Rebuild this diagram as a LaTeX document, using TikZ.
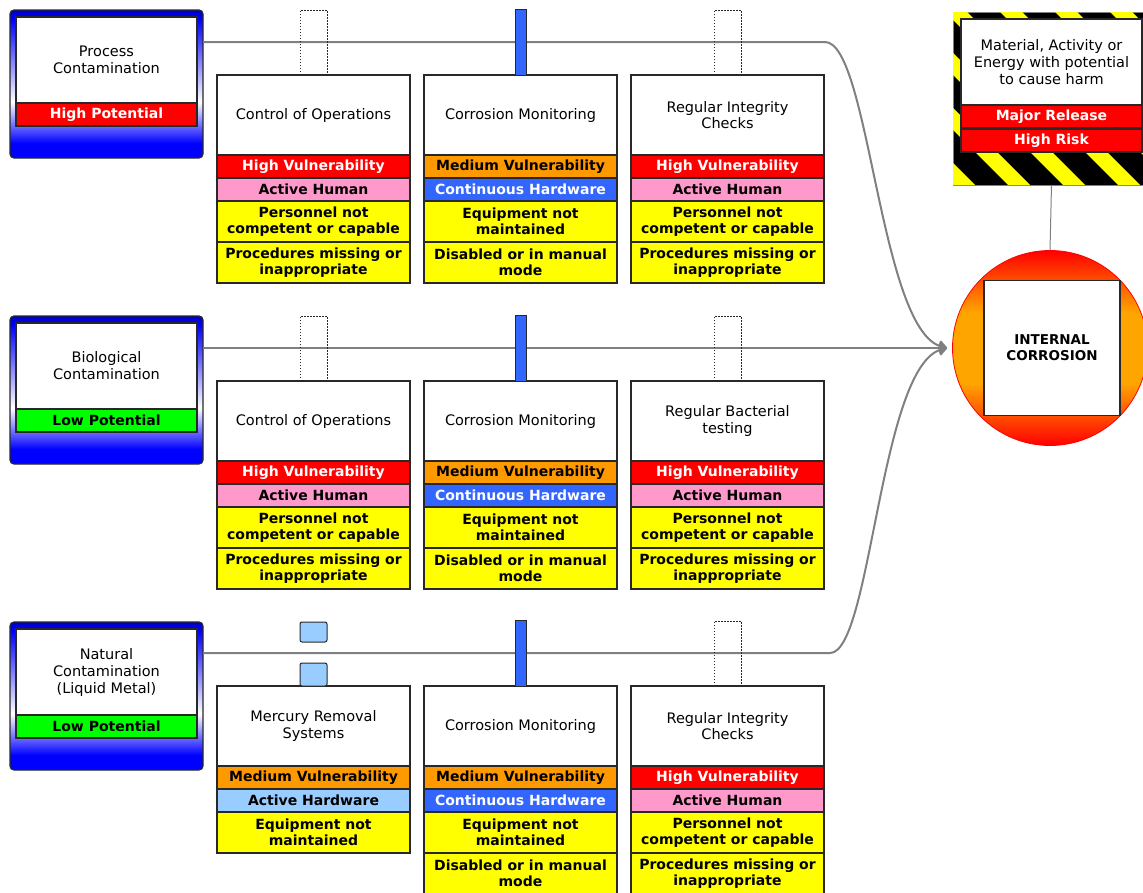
\documentclass[tikz,border=0pt]{standalone}
\usepackage{fontspec}
\setmainfont{DejaVu Sans}
\usetikzlibrary{positioning,arrows.meta}

\begin{document}
\begin{tikzpicture}[x=1pt, y=-1pt, thick]

  % Define Colors
  \definecolor{vred}{RGB}{255,0,0}
  \definecolor{vorange}{RGB}{255,153,0}
  \definecolor{hpink}{RGB}{255,153,204}
  \definecolor{hwblue}{RGB}{51,102,255}
  \definecolor{hwlight}{RGB}{153,204,255}
  \definecolor{fyellow}{RGB}{255,255,0}
  \definecolor{pgreen}{RGB}{0,255,0}
  \definecolor{tblue}{RGB}{0,0,255}
  \definecolor{tdark}{RGB}{0,0,200}
  \definecolor{torange}{RGB}{255,165,0}
  \definecolor{lgray}{RGB}{128,128,128}
  \definecolor{edge}{RGB}{40,40,40}

  % Shadings
  \pgfdeclareverticalshading{thrshade}{100bp}{color(0bp)=(tblue); color(25bp)=(tblue); color(30bp)=(tblue); color(44bp)=(white); color(72bp)=(tblue); color(75bp)=(tdark); color(100bp)=(tdark)}
  \pgfdeclareverticalshading{teshade}{100bp}{color(0bp)=(vred); color(25bp)=(vred); color(41bp)=(torange); color(59bp)=(torange); color(75bp)=(vred); color(100bp)=(vred)}

  % Node styles
  \tikzstyle{box}=[rectangle, draw=edge, line width=1.2pt, outer sep=0pt, inner sep=1pt, align=center]
  \tikzstyle{btitle}=[box, fill=white, anchor=north west, minimum width=193, minimum height=80, font=\fontsize{14.5}{16.5}\selectfont]
  \tikzstyle{strip}=[box, minimum width=193, minimum height=23, font=\fontsize{14}{16.5}\selectfont\bfseries]
  \tikzstyle{vhigh}=[strip, fill=vred, text=white]
  \tikzstyle{vmed}=[strip, fill=vorange]
  \tikzstyle{khum}=[strip, fill=hpink]
  \tikzstyle{kcont}=[strip, fill=hwblue, text=white]
  \tikzstyle{kact}=[strip, fill=hwlight]
  \tikzstyle{fact}=[strip, fill=fyellow, minimum height=41]

  \tikzstyle{threat}=[rectangle, draw=edge, line width=1.2pt, rounded corners=4pt, anchor=north west, minimum width=193, minimum height=148, outer sep=0pt, shading=thrshade]
  \tikzstyle{ttitle}=[box, fill=white, anchor=north west, minimum width=181, minimum height=86, font=\fontsize{14.5}{17}\selectfont]
  \tikzstyle{phigh}=[strip, minimum width=181, fill=vred, text=white]
  \tikzstyle{plow}=[strip, minimum width=181, fill=pgreen]

  \tikzstyle{hazard}=[rectangle, draw=lgray, line width=0.8pt, anchor=north west, fill=black, minimum width=197, minimum height=173, outer sep=0pt]
  \tikzstyle{hrisk}=[strip, minimum width=181, fill=vred, text=white]

  \tikzstyle{topevent}=[circle, draw=vred, minimum size=195, shading=teshade]
  \tikzstyle{tebox}=[box, fill=white, minimum width=136, minimum height=135, font=\fontsize{13.5}{16}\selectfont\bfseries]

  \tikzstyle{tline}=[draw=lgray, line width=2pt, shorten >=5pt, -{Straight Barb[length=6pt, width=11pt]}]
  \tikzstyle{hline}=[draw=lgray, line width=1pt]
  \tikzstyle{pghost}=[draw=edge, dash pattern=on 1.5pt off 1.5pt, line width=0.9pt]
  \tikzstyle{pbar}=[rectangle, draw=edge, line width=1pt, fill=hwblue, anchor=south, minimum width=11, minimum height=66, inner sep=0pt, outer sep=0pt]
  \tikzstyle{pbox}=[rectangle, rounded corners=2pt, draw=edge, line width=1pt, fill=hwlight, anchor=south, minimum width=27, inner sep=0pt, outer sep=0pt]

  \useasboundingbox (0,0) rectangle (1143,892);

  % Threats
  \node[threat] (thr1) at (10,10) {};
  \node[ttitle] (thr1t) at (16,17) {Process\\Contamination};
  \node[phigh, below=0pt of thr1t] (thr1p) {High Potential};

  \node[threat] (thr2) at (10,316) {};
  \node[ttitle] (thr2t) at (16,323) {Biological\\Contamination};
  \node[plow, below=0pt of thr2t] (thr2p) {Low Potential};

  \node[threat] (thr3) at (10,622) {};
  \node[ttitle] (thr3t) at (16,629) {Natural\\Contamination\\(Liquid Metal)};
  \node[plow, below=0pt of thr3t] (thr3p) {Low Potential};

  % Barriers, row 1
  \node[btitle] (b11t) at (217,75) {Control of Operations};
  \node[vhigh, below=0pt of b11t] (b11v) {High Vulnerability};
  \node[khum, below=0pt of b11v] (b11k) {Active Human};
  \node[fact, below=0pt of b11k] (b11f) {Personnel not\\competent or capable};
  \node[fact, below=0pt of b11f] (b11g) {Procedures missing or\\inappropriate};

  \node[btitle] (b12t) at (424,75) {Corrosion Monitoring};
  \node[vmed, below=0pt of b12t] (b12v) {Medium Vulnerability};
  \node[kcont, below=0pt of b12v] (b12k) {Continuous Hardware};
  \node[fact, below=0pt of b12k] (b12f) {Equipment not\\maintained};
  \node[fact, below=0pt of b12f] (b12g) {Disabled or in manual\\mode};

  \node[btitle] (b13t) at (631,75) {Regular Integrity\\Checks};
  \node[vhigh, below=0pt of b13t] (b13v) {High Vulnerability};
  \node[khum, below=0pt of b13v] (b13k) {Active Human};
  \node[fact, below=0pt of b13k] (b13f) {Personnel not\\competent or capable};
  \node[fact, below=0pt of b13f] (b13g) {Procedures missing or\\inappropriate};

  % Barriers, row 2
  \node[btitle] (b21t) at (217,381) {Control of Operations};
  \node[vhigh, below=0pt of b21t] (b21v) {High Vulnerability};
  \node[khum, below=0pt of b21v] (b21k) {Active Human};
  \node[fact, below=0pt of b21k] (b21f) {Personnel not\\competent or capable};
  \node[fact, below=0pt of b21f] (b21g) {Procedures missing or\\inappropriate};

  \node[btitle] (b22t) at (424,381) {Corrosion Monitoring};
  \node[vmed, below=0pt of b22t] (b22v) {Medium Vulnerability};
  \node[kcont, below=0pt of b22v] (b22k) {Continuous Hardware};
  \node[fact, below=0pt of b22k] (b22f) {Equipment not\\maintained};
  \node[fact, below=0pt of b22f] (b22g) {Disabled or in manual\\mode};

  \node[btitle] (b23t) at (631,381) {Regular Bacterial\\testing};
  \node[vhigh, below=0pt of b23t] (b23v) {High Vulnerability};
  \node[khum, below=0pt of b23v] (b23k) {Active Human};
  \node[fact, below=0pt of b23k] (b23f) {Personnel not\\competent or capable};
  \node[fact, below=0pt of b23f] (b23g) {Procedures missing or\\inappropriate};

  % Barriers, row 3
  \node[btitle] (b31t) at (217,686) {Mercury Removal\\Systems};
  \node[vmed, below=0pt of b31t] (b31v) {Medium Vulnerability};
  \node[kact, below=0pt of b31v] (b31k) {Active Hardware};
  \node[fact, below=0pt of b31k] (b31f) {Equipment not\\maintained};

  \node[btitle] (b32t) at (424,686) {Corrosion Monitoring};
  \node[vmed, below=0pt of b32t] (b32v) {Medium Vulnerability};
  \node[kcont, below=0pt of b32v] (b32k) {Continuous Hardware};
  \node[fact, below=0pt of b32k] (b32f) {Equipment not\\maintained};
  \node[fact, below=0pt of b32f] (b32g) {Disabled or in manual\\mode};

  \node[btitle] (b33t) at (631,686) {Regular Integrity\\Checks};
  \node[vhigh, below=0pt of b33t] (b33v) {High Vulnerability};
  \node[khum, below=0pt of b33v] (b33k) {Active Human};
  \node[fact, below=0pt of b33k] (b33f) {Personnel not\\competent or capable};
  \node[fact, below=0pt of b33f] (b33g) {Procedures missing or\\inappropriate};

  % Hazard
  \node[hazard] (haz) at (953,12) {};
  \begin{scope}
    \clip (haz.north west) rectangle (haz.south east);
    \foreach \x in {780,835,...,1150}
      \fill[fyellow] (\x,12) -- ++(22,0) -- ++(173,173) -- ++(-22,0) -- cycle;
  \end{scope}
  \node[ttitle] (hazt) at (961,19) {Material, Activity or\\Energy with potential\\to cause harm};
  \node[hrisk, below=0pt of hazt] (hazm) {Major Release};
  \node[hrisk, below=1pt of hazm] (hazh) {High Risk};

  % Top event
  \node[topevent] (te) at (1050,348) {};
  \node[tebox] (tet) at (1052,348) {INTERNAL\\CORROSION};

  % Threat lines
  \coordinate (y1) at (0,42);
  \coordinate (y2) at (0,348);
  \coordinate (y3) at (0,653);
  \draw[tline] (thr1.east |- y1) -- (825,42) .. controls (870,42) and (880,340) .. (te.west);
  \draw[tline] (thr2.east |- y2) -- (te.west);
  \draw[tline] (thr3.east |- y3) -- (830,653) .. controls (872,653) and (880,356) .. (te.west);
  \draw[hline] (haz.south) -- (te.north);

  % Barrier pillars
  \draw[pghost] ([xshift=-13.5pt]b11t.north) -- ++(0,-65) -- ++(27,0) -- ++(0,65);
  \node[pbar] (p12) at (b12t.north) {};
  \draw[pghost] ([xshift=-13.5pt]b13t.north) -- ++(0,-65) -- ++(27,0) -- ++(0,65);

  \draw[pghost] ([xshift=-13.5pt]b21t.north) -- ++(0,-65) -- ++(27,0) -- ++(0,65);
  \node[pbar] (p22) at (b22t.north) {};
  \draw[pghost] ([xshift=-13.5pt]b23t.north) -- ++(0,-65) -- ++(27,0) -- ++(0,65);

  \node[pbox, minimum height=23] (p31a) at (b31t.north) {};
  \node[pbox, minimum height=20] (p31b) at ([yshift=44pt]b31t.north) {};
  \node[pbar] (p32) at (b32t.north) {};
  \draw[pghost] ([xshift=-13.5pt]b33t.north) -- ++(0,-65) -- ++(27,0) -- ++(0,65);

\end{tikzpicture}
\end{document}
